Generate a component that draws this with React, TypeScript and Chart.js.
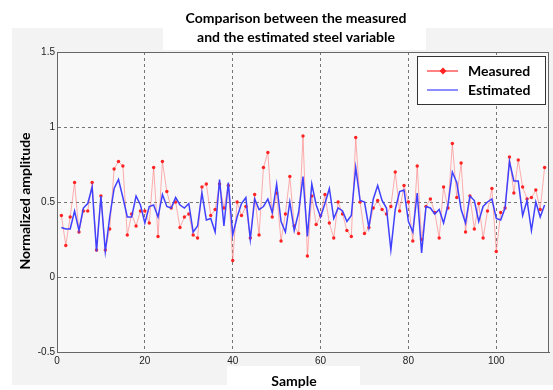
import React, { useEffect, useRef } from "react";
import { Chart, registerables } from "chart.js";

Chart.register(...registerables);

const samples: number[] = Array.from({ length: 111 }, (_, i) => i + 1);

const measured: number[] = [
  0.41, 0.21, 0.40, 0.63, 0.30, 0.44, 0.44, 0.63, 0.18, 0.54,
  0.18, 0.32, 0.72, 0.77, 0.74, 0.28, 0.42, 0.34, 0.44, 0.44,
  0.36, 0.73, 0.27, 0.77, 0.57, 0.46, 0.50, 0.33, 0.40, 0.42,
  0.28, 0.26, 0.60, 0.62, 0.41, 0.45, 0.62, 0.46, 0.61, 0.11,
  0.50, 0.41, 0.47, 0.26, 0.55, 0.28, 0.73, 0.83, 0.40, 0.56,
  0.24, 0.42, 0.67, 0.34, 0.29, 0.94, 0.14, 0.54, 0.35, 0.41,
  0.55, 0.36, 0.26, 0.50, 0.42, 0.31, 0.27, 0.93, 0.50, 0.29,
  0.33, 0.46, 0.51, 0.45, 0.42, 0.47, 0.70, 0.44, 0.61, 0.50,
  0.24, 0.74, 0.25, 0.47, 0.52, 0.43, 0.26, 0.60, 0.46, 0.89,
  0.53, 0.76, 0.30, 0.54, 0.32, 0.49, 0.26, 0.44, 0.59, 0.17,
  0.43, 0.46, 0.80, 0.56, 0.78, 0.60, 0.52, 0.53, 0.58, 0.45,
  0.73,
];

const estimated: number[] = [
  0.33, 0.32, 0.32, 0.44, 0.31, 0.46, 0.49, 0.60, 0.17, 0.54,
  0.17, 0.40, 0.59, 0.65, 0.53, 0.40, 0.40, 0.54, 0.48, 0.36,
  0.47, 0.48, 0.40, 0.55, 0.47, 0.46, 0.53, 0.48, 0.46, 0.49,
  0.30, 0.34, 0.56, 0.38, 0.39, 0.30, 0.65, 0.34, 0.63, 0.28,
  0.40, 0.49, 0.53, 0.25, 0.52, 0.45, 0.47, 0.52, 0.43, 0.62,
  0.37, 0.30, 0.50, 0.31, 0.43, 0.67, 0.27, 0.62, 0.48, 0.40,
  0.49, 0.59, 0.39, 0.46, 0.44, 0.37, 0.41, 0.73, 0.51, 0.50,
  0.33, 0.52, 0.61, 0.51, 0.46, 0.18, 0.45, 0.57, 0.58, 0.37,
  0.30, 0.56, 0.16, 0.47, 0.46, 0.42, 0.45, 0.36, 0.48, 0.70,
  0.63, 0.45, 0.36, 0.54, 0.51, 0.37, 0.47, 0.50, 0.52, 0.39,
  0.38, 0.46, 0.77, 0.64, 0.64, 0.41, 0.51, 0.31, 0.50, 0.40,
  0.48,
];

const xTicks: number[] = [0, 20, 40, 60, 80, 100];
const yTicks: number[] = [-0.5, 0, 0.5, 1, 1.5];
const titleLines: string[] = ["Comparison between the measured", "and the estimated steel variable"];
const xTitle = "Sample";
const yTitle = "Normalized amplitude";
const seriesNames: string[] = ["Measured", "Estimated"];

const RED_LINE = "rgba(255,120,120,0.6)";
const RED_MARK = "#ff2222";
const BLUE = "#4040ff";

const decorPlugin = {
  id: "decor",
  beforeDraw(chart: any) {
    const { ctx, chartArea: a } = chart;
    ctx.save();
    ctx.fillStyle = "#ffffff";
    ctx.fillRect(0, 0, 553, 390);
    ctx.fillStyle = "#f3f3f3";
    ctx.fillRect(12, 28, 541, 357);
    ctx.fillStyle = "#ffffff";
    ctx.fillRect(163, 0, 263, 50);
    ctx.fillRect(227, 366, 133, 24);
    ctx.fillStyle = "#f8f8f8";
    ctx.fillRect(a.left, a.top, a.right - a.left, a.bottom - a.top);
    ctx.restore();
  },
  afterDraw(chart: any) {
    const { ctx, chartArea: a } = chart;
    ctx.save();
    ctx.strokeStyle = "#666666";
    ctx.lineWidth = 1;
    ctx.strokeRect(a.left + 0.5, a.top + 0.5, a.right - a.left - 1, a.bottom - a.top);

    ctx.fillStyle = "#000000";
    ctx.textAlign = "center";
    ctx.textBaseline = "middle";
    ctx.font = "bold 14px Lato";
    ctx.fillText(titleLines[0], 296, 18);
    ctx.fillText(titleLines[1], 296, 37);
    ctx.fillText(xTitle, 294, 381);
    ctx.save();
    ctx.translate(25, 201);
    ctx.rotate(-Math.PI / 2);
    ctx.fillText(yTitle, 0, 0);
    ctx.restore();

    // legend
    const lx = 417, ly = 56, lw = 128, lh = 48;
    ctx.fillStyle = "#ffffff";
    ctx.fillRect(lx, ly, lw, lh);
    ctx.strokeStyle = "#333333";
    ctx.strokeRect(lx + 0.5, ly + 0.5, lw, lh);
    ctx.lineWidth = 2;
    ctx.strokeStyle = "rgba(255,100,100,0.8)";
    ctx.beginPath();
    ctx.moveTo(427, 71);
    ctx.lineTo(458, 71);
    ctx.stroke();
    ctx.fillStyle = RED_MARK;
    ctx.beginPath();
    ctx.moveTo(443, 67.5);
    ctx.lineTo(446.5, 71);
    ctx.lineTo(443, 74.5);
    ctx.lineTo(439.5, 71);
    ctx.closePath();
    ctx.fill();
    ctx.lineWidth = 1.2;
    ctx.strokeStyle = BLUE;
    ctx.beginPath();
    ctx.moveTo(427, 90);
    ctx.lineTo(458, 90);
    ctx.stroke();
    ctx.fillStyle = "#000000";
    ctx.textAlign = "left";
    ctx.font = "bold 14px Lato";
    ctx.fillText(seriesNames[0], 468, 71);
    ctx.fillText(seriesNames[1], 468, 90);
    ctx.restore();
  },
};

export default function App() {
  const ref = useRef<HTMLCanvasElement | null>(null);
  useEffect(() => {
    if (!ref.current) return;
    const chart = new Chart(ref.current, {
      type: "line",
      data: {
        datasets: [
          {
            label: seriesNames[1],
            data: samples.map((x, i) => ({ x, y: estimated[i] })),
            borderColor: BLUE,
            borderWidth: 1.5,
            pointRadius: 0,
            tension: 0,
            order: 0,
          },
          {
            label: seriesNames[0],
            data: samples.map((x, i) => ({ x, y: measured[i] })),
            borderColor: RED_LINE,
            borderWidth: 1,
            pointRadius: 1.7,
            pointBackgroundColor: RED_MARK,
            pointBorderWidth: 0,
            tension: 0,
            order: 1,
          },
        ],
      },
      options: {
        animation: false,
        responsive: false,
        layout: { padding: { left: 0, top: 52, right: 3, bottom: 0 } },
        plugins: { legend: { display: false }, tooltip: { enabled: false }, title: { display: false } },
        scales: {
          x: {
            type: "linear",
            min: 0,
            max: 112,
            afterFit: (s: any) => { s.height = 38; },
            afterBuildTicks: (s: any) => { s.ticks = xTicks.map((v) => ({ value: v })); },
            ticks: {
              padding: 3,
              color: "#222222",
              font: { family: "Liberation Sans", size: 10 },
              maxRotation: 0,
            },
            grid: {
              color: (c: any) => (c.tick && (c.tick.value === 0) ? "rgba(0,0,0,0)" : "#757575"),
              drawTicks: false,
            },
            border: { display: true, color: "#666666", dash: [3, 3] },
          },
          y: {
            type: "linear",
            min: -0.5,
            max: 1.5,
            afterFit: (s: any) => { s.width = 57; },
            afterBuildTicks: (s: any) => { s.ticks = yTicks.map((v) => ({ value: v })); },
            ticks: {
              padding: 2,
              color: "#222222",
              font: { family: "Liberation Sans", size: 10 },
              callback: (v: any) => String(v),
            },
            grid: {
              color: (c: any) => (c.tick && (c.tick.value === -0.5 || c.tick.value === 1.5) ? "rgba(0,0,0,0)" : "#757575"),
              drawTicks: false,
            },
            border: { display: true, color: "#666666", dash: [3, 3] },
          },
        },
      } as any,
      plugins: [decorPlugin],
    });
    return () => chart.destroy();
  }, []);
  return (
    <div style={{ position: "absolute", left: 0, top: 0, width: 553, height: 390 }}>
      <canvas ref={ref} width={553} height={390} style={{ width: 553, height: 390 }} />
    </div>
  );
}
